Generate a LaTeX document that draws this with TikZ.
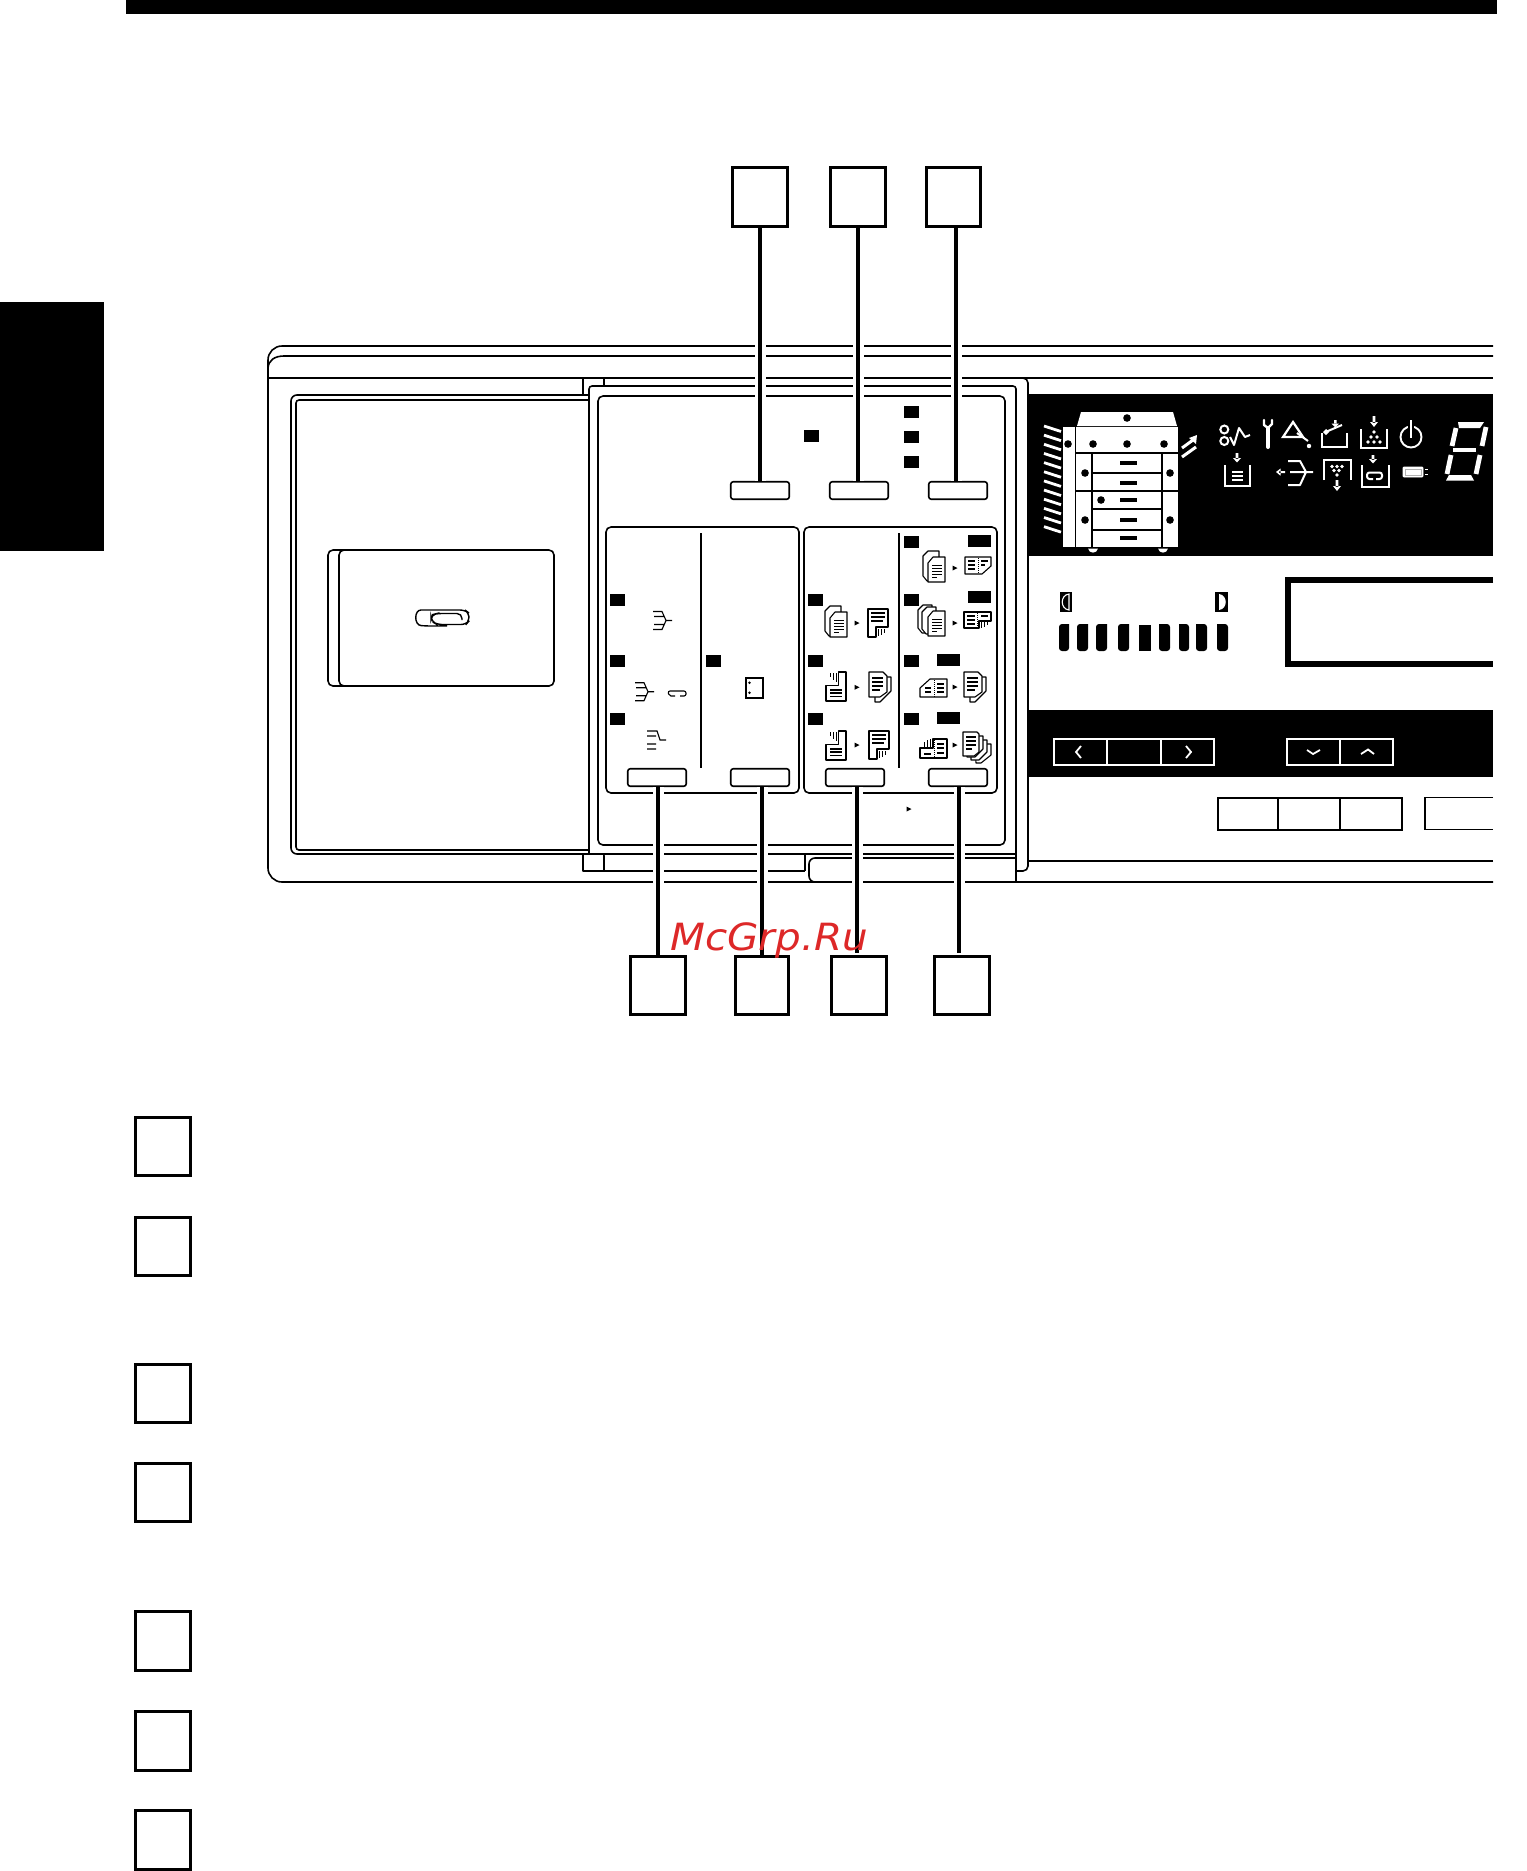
\documentclass[tikz,border=0pt]{standalone}
\usepackage{fontspec}
\newfontfamily\wmfont{DejaVu Sans}
\definecolor{wmred}{RGB}{221,40,40}
\tikzset{
  thin line/.style={line width=1.6pt,line join=round},
  labelbox/.style={draw=black,line width=3pt,fill=white,minimum width=55pt,minimum height=58.5pt,inner sep=0pt},
  keybtn/.style={draw=black,line width=1.6pt,fill=white,rounded corners=2.5pt,minimum width=58.5pt,minimum height=17.5pt,inner sep=0pt},
  leader/.style={line width=3.2pt,preaction={draw=white,line width=11pt}},
  wl/.style={white,line width=1.8pt},
  doc/.style={draw=black,fill=white,line width=1.1pt,line join=round},
  pics/sheetp/.style={code={
    \path[doc] (5,0)--(17,0)--(17,25)--(0,25)--(0,6)--cycle;
    \draw[line width=1pt] (4,8)--(14,8) (4,11)--(14,11) (4,14)--(14,14) (4,17)--(14,17) (4,20)--(9,20);
  }},
  pics/stacktwo/.style={code={
    \path[doc] (0,4)--(5,-1)--(16,-1)--(16,10)--(10,29)--(4,29)--(0,24)--cycle;
    \pic at (5,5) {sheetp};
  }},
  pics/stackthree/.style={code={
    \path[doc] (0,4)--(5,-1)--(14,-1)--(14,10)--(10,27)--(4,27)--(0,22)--cycle;
    \path[doc] (4,6)--(9,1)--(18,1)--(18,12)--(14,28)--(8,28)--(4,23)--cycle;
    \pic at (10,5) {sheetp};
  }},
  pics/lsheet/.style={code={
    \path[doc] (0,0)--(20,0)--(20,18)--(8,18)--(8,28)--(0,28)--cycle;
    \draw[line width=1.1pt] (3,4)--(17,4) (3,8)--(17,8) (3,12)--(15,12);
    \draw[line width=1pt] (10,20)--(10,27) (13,20)--(13,26) (16,20)--(16,24);
  }},
  pics/quad/.style={code={
    \path[doc] (12.3,0)--(20,0)--(20,29)--(0,29)--(0,13.3)--(12.3,13.3)--cycle;
    \draw[line width=1.1pt] (4,18)--(16,18) (4,21)--(16,21) (4,24.5)--(16,24.5);
    \draw[line width=1pt] (4,1)--(4,5) (7,1)--(7,8) (10,1)--(10,10);
  }},
  pics/duplex/.style={code={
    \path[doc] (6,5)--(22,5)--(22,19)--(11,30)--(6,30)--cycle;
    \path[doc] (0,0)--(14,0)--(18,4)--(18,20)--(11,25)--(0,25)--cycle;
    \draw[line width=1.1pt] (3,6)--(14,6) (3,10)--(14,10) (3,14)--(14,14) (3,18)--(11,18);
  }},
  pics/fanout/.style={code={
    \path[doc] (12,12)--(28,12)--(28,23)--(18,31)--(13,31)--cycle;
    \path[doc] (8,8)--(24,8)--(24,20)--(16,28)--(8,28)--cycle;
    \path[doc] (4,4)--(20,4)--(20,17)--(12,25)--(4,25)--cycle;
    \path[doc] (0,0)--(14,0)--(16,2)--(16,20)--(11,24)--(0,24)--cycle;
    \draw[line width=1.1pt] (3,5)--(13,5) (3,9)--(13,9) (3,13)--(13,13) (3,17)--(9,17);
  }},
  pics/fork/.style={code={
    \draw[line width=1.1pt] (-13,-9)--(-4,-9)--(0,0)--(6,0) (-13,9)--(-4,9)--(0,0) (-12,-4)--(-2,-4) (-12,4)--(-2,4);
  }},
}
\begin{document}
\begin{tikzpicture}[x=1pt,y=-1pt]
\useasboundingbox (0,0) rectangle (1526,1871);
% page furniture
\fill (126,0) rectangle (1497,14);
\fill (0,302) rectangle (104,551);
% machine outer casing
\draw[thin line,rounded corners=14pt] (1493,346)--(268,346)--(268,882)--(1493,882);
\draw[thin line] (1493,356)--(284,356) .. controls (275,356) and (268,360) .. (268,369);
\draw[line width=2.2pt] (268,378)--(1493,378);
\draw[thin line] (1493,861)--(1028,861);
% door recess
\draw[thin line,rounded corners=6pt] (589,395)--(291,395)--(291,854)--(589,854);
\draw[thin line,rounded corners=3pt] (589,400)--(296,400)--(296,850)--(589,850);
\draw[thin line] (583,378)--(583,395) (604,378)--(604,385) (583,854)--(583,871)--(805,871) (604,854)--(604,871);
% card
\draw[thin line,rounded corners=5pt,fill=white] (345,550)--(328,550)--(328,686)--(345,686);
\draw[thin line,rounded corners=5pt,fill=white] (339,550) rectangle (554,686);
% paper clip
\draw[line width=1.4pt,rounded corners=5pt] (447,626)--(426,626) .. controls (414,625) and (414,610) .. (426,610) -- (465,610)--(469,613)--(469,621)--(466,624.5)--(437,624.5)--(431,621)--(431,615)--(437,613.5)--(462,613.5)--(462,620);
% central panel
\draw[thin line,fill=white,rounded corners=3pt] (1016,882)--(1016,386)--(589,386)--(589,854);
\draw[line width=2pt] (589,854)--(1016,854);
\draw[thin line,rounded corners=5pt] (1020,378)--(1028,378)--(1028,871)--(1016,871);
\draw[thin line,rounded corners=5pt] (598,396) rectangle (1005,845);
\draw[thin line] (805,854)--(805,871);
\draw[thin line,rounded corners=6pt] (1016,858)--(809,858)--(809,882)--(1016,882);
% mode cards
\draw[thin line,rounded corners=5pt] (606,527) rectangle (799,793);
\draw[thin line,rounded corners=5pt] (804,527) rectangle (997,793);
\draw[line width=1.8pt] (701,533)--(701,768) (899,533)--(899,768);
% LEDs
\foreach \px/\py in {804/430,904/406,904/431,904/456}
  \fill (\px,\py) rectangle +(14.5,12);
\foreach \px/\py in {610/594,610/655,610/713,706/655,808/594,808/655,808/713,904/536,904/594,904/655,904/713}
  \fill (\px,\py) rectangle +(15,12);
\foreach \px/\py in {968/535,968/591,937/654,937/712}
  \fill (\px,\py) rectangle +(23,11.5);
% finishing icons, left card
\pic at (666,620.5) {fork};
\pic at (648,691.7) {fork};
\draw[line width=1.1pt,rounded corners=2pt] (675,696)--(669,696)--(668,691)--(686,691)--(686,696)--(680,696);
\draw[line width=1.1pt] (647,731)--(657,731)--(660,740)--(666,740) (647,736)--(656,736) (647,744)--(656,744) (647,749)--(656,749);
\draw[line width=1.1pt] (746,678) rectangle (763,698);
\fill (749.5,682.7) circle (1.4) (749.5,692.7) circle (1.4);
% copy mode icons
\pic at (825,607) {stacktwo};
\pic at (868,609) {lsheet};
\pic at (826,672) {quad};
\pic at (869,672) {duplex};
\pic at (826,731) {quad};
\pic at (869,731) {lsheet};
\pic at (923,552) {stacktwo};
\path[doc] (965,557)--(991,557)--(991,566)--(982,574)--(965,574)--cycle;
\draw[line width=1.3pt] (968,561)--(975,561) (968,565)--(975,565) (968,569)--(975,569) (981,561)--(988,561) (981,565)--(985,565);
\draw[line width=1pt,densely dotted] (978,558)--(978,574);
\pic at (918,606) {stackthree};
\path[doc] (964,612)--(991,612)--(991,621)--(979,621)--(979,628)--(964,628)--cycle;
\draw[line width=1.1pt] (967,616)--(975,616) (967,620)--(975,620) (967,624)--(975,624) (981,616)--(988,616);
\draw[line width=1pt,densely dotted] (977,613)--(977,628);
\draw[line width=1pt] (981,622)--(981,628) (984,622)--(984,627) (987,622)--(987,625);
\path[doc] (930,679)--(947,679)--(947,697)--(920,697)--(920,688)--cycle;
\draw[line width=1.1pt] (925,688)--(931,688) (925,692)--(931,692) (937,684)--(944,684) (937,688)--(944,688) (937,692)--(944,692);
\draw[line width=1pt,densely dotted] (934,680)--(934,697);
\pic at (964,672) {duplex};
\path[doc] (933,739)--(947,739)--(947,758)--(920,758)--(920,748)--(933,748)--cycle;
\draw[line width=1.1pt] (937,744)--(944,744) (937,748)--(944,748) (937,753)--(944,753);
\draw[line width=1.5pt] (924,754)--(931,754);
\draw[line width=1pt] (924,747)--(924,742) (927,747)--(927,740) (930,747)--(930,739);
\draw[line width=1pt,densely dotted] (934,740)--(934,758);
\pic at (963,732) {fanout};
% small arrowheads
\foreach \px/\py in {857/623,857/687.3,857/745,955/568,955/623,955/687,955/745,909/809}
  \fill (\px-2.5,\py-2.5)--(\px+2.5,\py)--(\px-2.5,\py+2.5)--cycle;
% top black band
\fill (1029,394) rectangle (1493,556);
% copier picture
\fill[white] (1081,412)--(1173,412)--(1177,426)--(1077,426)--cycle;
\fill[white] (1076,427) rectangle (1178,547);
\fill[white] (1063,427) rectangle (1075,547);
\draw[line width=1.8pt] (1076,453)--(1178,453) (1092,453)--(1092,547) (1162,453)--(1162,547) (1092,473)--(1162,473) (1076,491)--(1178,491) (1092,509)--(1162,509) (1092,530)--(1162,530);
\foreach \px/\py in {1127/418,1068/444,1093/444,1127/444,1164/444,1085/473,1170/473,1101/500,1085/520,1170/520}
  \fill (\px,\py) circle (3.8);
\foreach \py in {463,483,500,520,538}
  \fill (1119.5,\py-1.8) rectangle +(17,3.6);
\fill[white] (1088,548.5)--(1098,548.5) .. controls (1097,554) and (1089,554) .. cycle;
\fill[white] (1158,548.5)--(1168,548.5) .. controls (1167,554) and (1159,554) .. cycle;
\foreach \i in {0,...,11}
  \draw[white,line width=2.8pt] (1044,426+9.15*\i)--(1061,431.5+9.15*\i);
\draw[white,line width=3pt] (1182,448)--(1193,440) (1182,457)--(1196,447);
\fill[white] (1197,435)--(1196,444)--(1189,438)--cycle;
% status icons
\draw[wl,line width=2pt] (1224.3,429.5) circle (4) (1224.3,441) circle (4);
\draw[wl,line width=2pt,line join=round] (1230,437)--(1234,445)--(1239,428)--(1245,437)--(1250,435);
\draw[white,line width=4pt,line cap=round] (1268,447)--(1268,428);
\draw[white,line width=2.4pt,line cap=round,line join=round] (1264,420)--(1264,425)--(1268,428)--(1272,424)--(1272,420);
\draw[wl,line width=2.2pt] (1283,437)--(1293,422)--(1303,437)--cycle;
\draw[wl,line width=2pt] (1297,433)--(1308,441);
\fill[white] (1309,446) circle (2.2);
\draw[wl,line width=2.2pt] (1322,433)--(1322,447)--(1347,447)--(1347,433);
\draw[wl,line width=2pt] (1326,432) circle (1.6) (1328,431)--(1342,425);
\fill[white] (1334,420) rectangle (1336.5,424) (1331.5,423.5)--(1339,423.5)--(1335.2,427.5)--cycle;
\draw[wl,line width=2.2pt] (1361,429)--(1361,448)--(1387,448)--(1387,429);
\fill[white] (1372.7,416) rectangle (1375.3,423) (1370,422)--(1378,422)--(1374,427)--cycle;
\foreach \px/\py in {1374/432,1371/437,1377/437,1368/442,1374/442,1380/442}
  \fill[white] (\px,\py) circle (1.8);
\draw[wl,line width=1.9pt] (1411,437) circle (10.5);
\draw[black,line width=6pt] (1411,423)--(1411,429);
\draw[wl,line width=1.9pt] (1411,420)--(1411,438);
% second row
\fill[white] (1235.7,453) rectangle (1238.3,459) (1233,458)--(1241,458)--(1237,462.5)--cycle;
\draw[wl,line width=2.2pt] (1225,465)--(1225,486)--(1250,486)--(1250,465);
\draw[white,line width=2.2pt] (1232,472)--(1243,472) (1232,476)--(1243,476) (1232,480)--(1243,480);
\fill[white] (1279,471) rectangle (1285,473.2) (1280.5,468.5)--(1280.5,475.7)--(1276,472)--cycle;
\draw[wl,line width=2pt,line join=round] (1288,461)--(1300,461)--(1306,472)--(1313,472) (1290,472)--(1306,472) (1288,485)--(1300,485)--(1306,472);
\draw[wl,line width=2.2pt] (1324,480)--(1324,460)--(1351,460)--(1351,480);
\foreach \px/\py in {1332/466.5,1337/466.5,1342/466.5,1334/470.5,1339/470.5,1337/475}
  \fill[white] (\px,\py) circle (1.8);
\fill[white] (1335.7,480) rectangle (1338.3,487) (1333,486)--(1341,486)--(1337,491)--cycle;
\fill[white] (1371.7,455) rectangle (1374.3,460) (1369,459)--(1377,459)--(1373,463.5)--cycle;
\draw[wl,line width=2.2pt] (1362,465)--(1362,487)--(1389,487)--(1389,465);
\draw[wl,line width=2pt,rounded corners=2.5pt] (1373,479)--(1367,479)--(1367,472.5)--(1382,472.5)--(1382,479)--(1376,479);
\draw[white,fill=white,line width=.9pt,rounded corners=1pt] (1403,467) rectangle (1423,477);
\draw[black!30,line width=.6pt] (1405,469) rectangle (1421,475);
\draw[wl,line width=1.2pt] (1425,469.5)--(1428,469.5) (1425,474.5)--(1428,474.5);
% seven-segment digit
\fill[white] (1458,422)--(1484,422)--(1480,428)--(1459,428)--cycle;
\draw[white,line width=4.8pt] (1456,428)--(1452,446);
\draw[white,line width=4.8pt] (1486,427)--(1482,446);
\draw[white,line width=4.4pt] (1453,450)--(1476,450);
\draw[white,line width=4.8pt] (1451,455)--(1447,474);
\draw[white,line width=4.8pt] (1480,455)--(1476,474);
\fill[white] (1449,475)--(1471,475)--(1474,480.5)--(1446,480.5)--cycle;
% density indicator
\fill (1060,592) rectangle (1072,612);
\draw[white,line width=1.1pt] (1069,594) .. controls (1060,595) and (1060,609) .. (1069,610) -- cycle;
\fill (1215,592) rectangle (1228,612);
\fill[white] (1219,594) .. controls (1228,595) and (1228,609) .. (1219,610) -- cycle;
\foreach \xa/\xb in {1059/1069,1077/1088,1096/1107,1118/1129}
  \fill (\xb,624) [rounded corners=3pt] -- (\xa,624) -- (\xa,651) -- (\xb,651) [sharp corners] -- cycle;
\fill (1139,625) rectangle (1151,651);
\foreach \xa/\xb in {1159/1170,1179/1189,1196/1207,1217/1228}
  \fill (\xa,624) [rounded corners=3pt] -- (\xb,624) -- (\xb,651) -- (\xa,651) [sharp corners] -- cycle;
% message display
\draw[line width=6pt] (1493,580)--(1288,580)--(1288,663.5)--(1493,663.5);
% lower black band
\fill (1029,710) rectangle (1493,777);
\draw[white,line width=1.5pt] (1054,739) rectangle (1214,765);
\draw[white,line width=1.1pt] (1107,739)--(1107,765) (1161,739)--(1161,765);
\draw[white,line width=1.5pt] (1287,739) rectangle (1393,765);
\draw[white,line width=1.5pt] (1340,739)--(1340,765);
\draw[wl] (1081,746)--(1076,752)--(1081,758) (1186,746)--(1191,752)--(1186,758);
\draw[wl] (1307,750)--(1313,754)--(1320,750) (1361,754)--(1368,749.5)--(1374,754);
% bottom row keys
\draw[line width=2pt] (1217.5,798) rectangle (1402,829.5);
\draw[line width=1.2pt] (1278,798)--(1278,829.5);
\draw[line width=1.8pt] (1340,798)--(1340,829.5);
\draw[line width=1.6pt] (1493,797.5)--(1425,797.5)--(1425,829.5)--(1493,829.5);
% keys
\node[keybtn] (k1) at (760,490.5) {};
\node[keybtn] (k2) at (859,490.5) {};
\node[keybtn] (k3) at (958,490.5) {};
\node[keybtn] (k4) at (657,777.5) {};
\node[keybtn] (k5) at (760,777.5) {};
\node[keybtn] (k6) at (855,777.5) {};
\node[keybtn] (k7) at (958,777.5) {};
% reference boxes
\node[labelbox] (t1) at (760,197) {};
\node[labelbox] (t2) at (858,197) {};
\node[labelbox,minimum width=54pt] (t3) at (953.5,197) {};
\node[labelbox] (u1) at (658,985.5) {};
\node[labelbox,minimum width=53pt] (u2) at (762,985.5) {};
\node[labelbox] (u3) at (859,985.5) {};
\node[labelbox] (u4) at (961.5,985.5) {};
\foreach \n/\py in {n1/1146.5,n2/1246.5,n3/1393.5,n4/1492.5,n5/1641,n6/1741,n7/1840}
  \node[labelbox] (\n) at (163,\py) {};
% leaders
\draw[leader] (t1.south) -- (t1.south |- k1.north);
\draw[leader] (t2.south) -- (t2.south |- k2.north);
\draw[leader] ([xshift=2.5pt]t3.south) -- ([xshift=2.5pt]t3.south |- k3.north);
\draw[leader] (u1.north |- k4.south) -- (u1.north);
\draw[leader] (u2.north |- k5.south) -- (u2.north);
\draw[leader,shorten >=2pt] ([xshift=-2pt]u3.north |- k6.south) -- ([xshift=-2pt]u3.north);
\draw[leader,shorten >=2pt] ([xshift=-2.5pt]u4.north |- k7.south) -- ([xshift=-2.5pt]u4.north);
% watermark
\node[anchor=base west,inner sep=0pt,text=wmred,xscale=1.08] (wm) at (670,950) {\wmfont\itshape\fontsize{37.5}{40}\selectfont McGrp.Ru};
\end{tikzpicture}
\end{document}
